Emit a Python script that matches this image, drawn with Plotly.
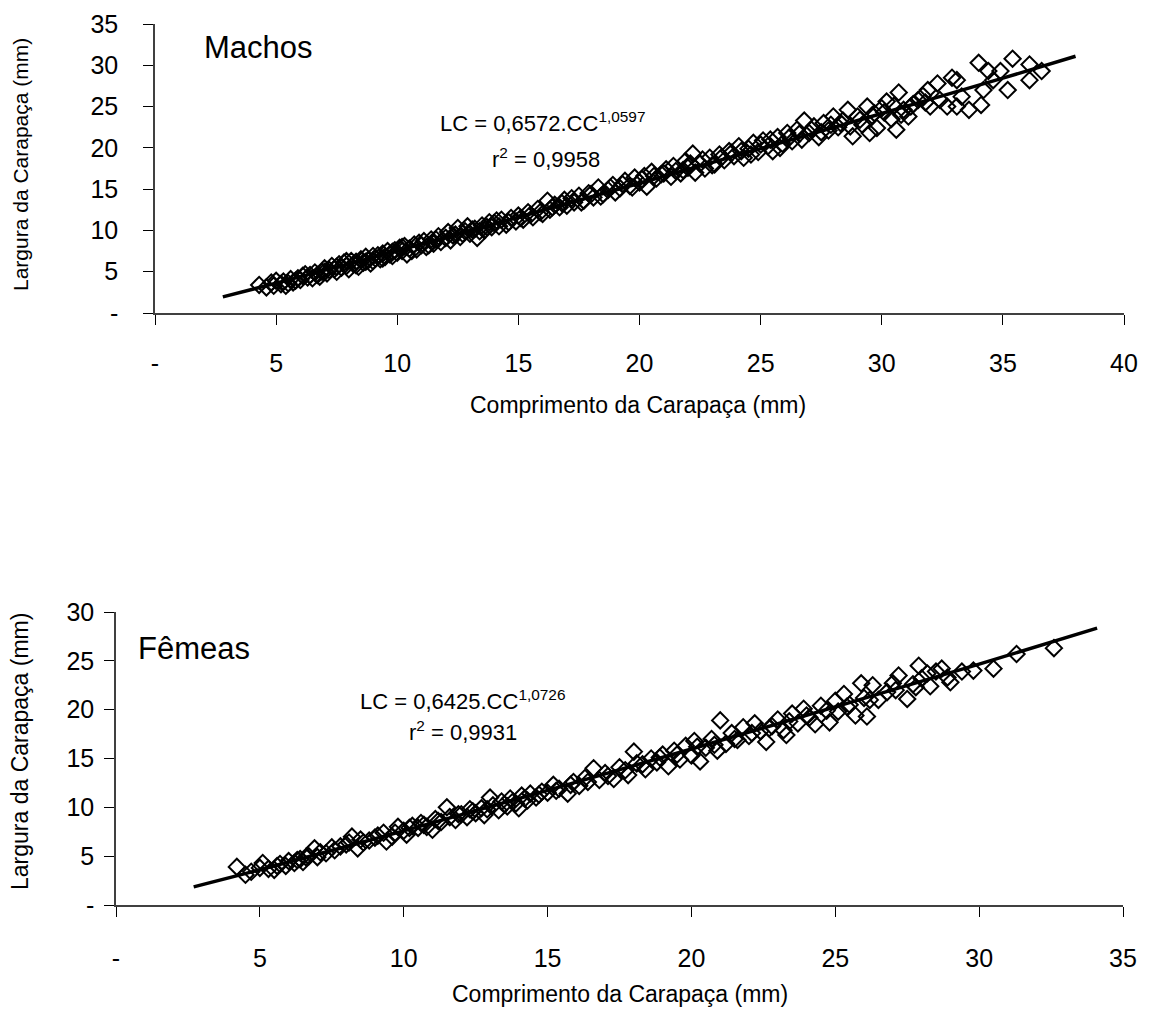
import plotly.graph_objects as go

# ---------------- DATA ----------------
# Machos (males): carapace length (CC) vs carapace width (LC), mm
machos_cc = [4.3, 4.6, 4.9, 5.0, 5.2, 5.3, 5.5, 5.6, 5.8, 5.9, 6.0, 6.1, 6.3, 6.4, 6.5, 6.6, 6.7, 6.9, 7.0, 7.1,
             7.2, 7.3, 7.4, 7.5, 7.6, 7.7, 7.8, 7.9, 8.0, 8.1, 8.2, 8.3, 8.4, 8.5, 8.6, 8.7, 8.8, 8.9, 9.0, 9.1,
             9.2, 9.3, 9.4, 9.5, 9.6, 9.7, 9.8, 9.9, 10.0, 10.1, 10.2, 10.3, 10.4, 10.5, 10.7, 10.8, 11.0, 11.1, 11.2, 11.4,
             11.5, 11.7, 11.8, 12.0, 12.1, 12.2, 12.4, 12.5, 12.6, 12.8, 12.9, 13.0, 13.2, 13.3, 13.5, 13.6, 13.8, 13.9, 14.0, 14.2,
             14.3, 14.5, 14.7, 14.9, 15.0, 15.2, 15.4, 15.6, 15.8, 16.0, 16.2, 16.3, 16.5, 16.7, 16.9, 17.0, 17.3, 17.5, 17.7, 17.9,
             18.1, 18.3, 18.5, 18.7, 18.9, 19.0, 19.2, 19.4, 19.6, 19.8, 20.0, 20.2, 20.3, 20.5, 20.7, 20.9, 21.1, 21.3, 21.5, 21.7,
             21.9, 22.0, 22.2, 22.3, 22.5, 22.7, 22.9, 23.1, 23.3, 23.5, 23.7, 23.9, 24.1, 24.3, 24.5, 24.7, 24.9, 25.1, 25.3, 25.5,
             25.7, 25.9, 26.1, 26.3, 26.5, 26.7, 26.8, 27.0, 27.2, 27.4, 27.6, 27.8, 28.0, 28.2, 28.4, 28.6, 28.8, 29.0, 29.2, 29.4,
             29.5, 29.7, 29.8, 30.0, 30.2, 30.4, 30.6, 30.7, 30.9, 31.1, 31.2, 31.5, 31.7, 31.9, 32.0, 32.3, 32.4, 32.7, 32.9, 33.1,
             33.1, 33.3, 33.6, 34.0, 34.1, 34.2, 34.4, 34.6, 34.9, 35.2, 35.4, 36.1, 36.1, 36.6,
             4.8, 5.4, 5.7, 6.2, 6.8, 7.0, 7.5, 7.9, 8.3, 8.7, 9.0, 9.4, 9.8, 10.2, 10.6, 10.9, 11.3, 11.6, 12.3, 12.7,
             13.1, 13.4, 13.7, 14.1, 14.6, 15.1, 15.5, 15.9, 16.4, 16.8, 17.2, 17.6, 18.0, 18.4, 18.8, 19.3, 19.7, 20.1, 20.6, 21.0,
             21.4, 21.8, 22.1, 22.6, 23.0, 23.4, 23.8, 24.2, 24.6, 25.0, 25.4, 25.8, 26.2, 26.6, 27.1, 27.5, 27.9, 28.3, 28.7, 29.1,
             29.6, 30.1, 30.5, 30.8, 31.3, 31.8]
machos_lc = [3.4, 3.1, 3.3, 3.9, 3.5, 3.8, 3.6, 4.1, 3.9, 4.2, 4.0, 4.5, 4.3, 4.6, 4.2, 4.9, 4.6, 5.0, 5.4, 4.8,
             5.2, 5.7, 5.3, 5.0, 5.9, 5.5, 6.1, 5.7, 5.3, 6.3, 5.9, 6.2, 5.6, 6.5, 6.1, 6.8, 6.4, 6.0, 6.9, 6.6,
             7.0, 6.5, 7.2, 6.8, 7.5, 7.1, 6.9, 7.6, 7.3, 7.9, 7.5, 8.1, 7.1, 7.8, 8.3, 7.7, 8.2, 8.7, 8.0, 8.9,
             8.4, 9.3, 8.6, 9.1, 9.8, 8.8, 9.5, 10.3, 9.2, 9.9, 10.5, 9.6, 10.2, 9.1, 10.6, 10.0, 11.0, 10.4, 10.9, 10.5,
             11.3, 10.7, 11.5, 11.1, 11.8, 11.3, 12.2, 11.6, 12.6, 12.0, 13.6, 12.5, 13.1, 12.8, 13.7, 13.0, 13.4, 14.2, 13.6, 14.5,
             14.0, 15.2, 14.4, 14.9, 15.5, 14.6, 15.1, 16.0, 15.4, 16.4, 15.8, 16.6, 15.3, 17.1, 16.3, 16.8, 17.4, 16.5, 17.2, 16.9,
             18.4, 17.6, 19.3, 17.0, 18.1, 17.5, 18.8, 18.0, 19.2, 18.5, 19.6, 19.0, 20.2, 18.8, 19.9, 20.6, 19.5, 20.9, 20.2, 19.6,
             21.3, 20.5, 21.8, 20.8, 22.2, 21.0, 23.3, 21.8, 22.6, 21.3, 23.0, 22.1, 23.8, 22.5, 23.3, 24.6, 21.4, 23.8, 22.8, 25.0,
             21.8, 24.2, 22.4, 24.8, 25.6, 23.5, 22.2, 26.7, 24.6, 23.8, 25.0, 25.8, 26.3, 27.0, 25.0, 27.8, 25.8, 25.0, 28.5, 28.2,
             25.0, 26.2, 24.6, 30.3, 25.2, 27.0, 29.3, 28.2, 29.3, 27.0, 30.8, 30.1, 28.2, 29.3,
             3.7, 3.3, 3.7, 4.7, 4.4, 5.0, 5.6, 6.3, 5.8, 6.2, 6.3, 6.6, 7.4, 8.0, 7.5, 8.5, 8.2, 8.9, 9.4, 9.6,
             10.1, 9.9, 10.4, 11.2, 11.0, 11.5, 11.9, 12.2, 12.8, 13.3, 13.9, 13.4, 14.4, 14.1, 15.2, 15.6, 15.2, 16.2, 16.6, 16.9,
             17.8, 17.3, 18.1, 18.6, 17.9, 18.9, 19.4, 19.6, 19.2, 20.4, 21.0, 20.0, 21.3, 21.7, 22.2, 21.9, 22.8, 23.0, 22.6, 23.4,
             23.9, 24.3, 25.1, 24.0, 25.3, 25.5]
# Machos trend line (LC = 0,6572.CC^1,0597)
machos_fit_cc = [2.8, 5, 10, 15, 20, 25, 30, 35, 38]
machos_fit_lc = [1.95, 3.62, 7.54, 11.59, 15.72, 19.91, 24.16, 28.44, 31.1]

# Fêmeas (females)
femeas_cc = [4.2, 4.5, 4.7, 5.1, 5.3, 5.5, 5.7, 5.9, 6.0, 6.2, 6.4, 6.5, 6.7, 6.9, 7.0, 7.3, 7.6, 7.8, 8.0, 8.2,
             8.4, 8.6, 8.8, 9.0, 9.3, 9.4, 9.6, 9.8, 10.0, 10.1, 10.3, 10.5, 10.6, 10.8, 11.0, 11.1, 11.3, 11.5, 11.6, 11.8,
             12.0, 12.2, 12.3, 12.5, 12.7, 12.8, 13.0, 13.1, 13.3, 13.4, 13.6, 13.7, 13.9, 14.0, 14.1, 14.3, 14.4, 14.6, 14.8, 15.0,
             15.2, 15.4, 15.7, 15.9, 16.1, 16.3, 16.6, 16.8, 17.0, 17.3, 17.5, 17.8, 18.0, 18.1, 18.4, 18.6, 18.8, 19.0, 19.2, 19.4,
             19.6, 19.8, 20.0, 20.1, 20.3, 20.5, 20.7, 20.9, 21.0, 21.2, 21.4, 21.6, 21.8, 22.0, 22.2, 22.4, 22.6, 22.8, 23.0, 23.2,
             23.3, 23.5, 23.7, 23.9, 24.1, 24.3, 24.5, 24.8, 25.0, 25.1, 25.3, 25.5, 25.7, 25.9, 26.0, 26.1, 26.3, 26.5, 26.8, 27.0,
             27.2, 27.5, 27.7, 27.9, 28.0, 28.3, 28.5, 28.7, 29.0, 29.4, 29.8, 30.5, 31.3, 32.6,
             5.0, 5.6, 6.3, 6.6, 7.1, 7.5, 8.1, 8.5, 9.1, 9.7, 10.2, 10.7, 11.2, 11.9, 12.4, 12.9, 13.5, 13.8, 14.2, 14.7,
             15.3, 15.8, 16.4, 17.1, 17.7, 18.3, 18.9, 19.5, 20.2, 20.8, 21.5, 22.1, 22.7, 23.4, 24.0, 24.7, 25.4, 26.2, 27.1, 27.8,
             28.2, 28.9]
femeas_lc = [3.9, 3.1, 3.4, 4.3, 3.7, 3.6, 4.2, 4.0, 4.5, 4.3, 4.7, 4.4, 5.0, 5.8, 4.9, 5.3, 5.6, 6.0, 6.2, 7.0,
             5.8, 6.4, 6.6, 6.9, 7.4, 6.5, 7.0, 8.0, 7.6, 7.2, 8.1, 7.9, 8.4, 8.0, 7.7, 8.8, 8.5, 10.0, 9.0, 8.7,
             9.3, 9.0, 9.8, 9.4, 9.9, 9.2, 11.0, 10.2, 9.7, 10.6, 10.1, 10.9, 10.4, 9.9, 11.2, 10.7, 11.4, 11.0, 11.6, 11.5,
             12.3, 11.9, 11.4, 12.6, 12.2, 13.0, 14.0, 12.8, 13.5, 12.9, 14.1, 13.3, 15.7, 14.5, 13.9, 15.0, 14.6, 15.4, 14.2, 15.8,
             14.9, 16.3, 15.3, 16.8, 14.7, 16.1, 17.0, 15.8, 18.9, 16.5, 17.6, 16.9, 18.2, 17.3, 18.6, 17.8, 16.7, 18.3, 19.0, 17.9,
             17.4, 19.6, 18.6, 20.1, 19.2, 18.5, 20.4, 18.7, 20.9, 19.8, 21.6, 20.5, 19.4, 22.7, 21.2, 19.3, 22.5, 21.0, 21.8, 22.7,
             23.5, 21.1, 22.6, 24.5, 23.2, 22.4, 23.9, 24.2, 22.8, 23.9, 24.0, 24.2, 25.7, 26.3,
             3.8, 4.0, 4.6, 4.9, 5.4, 5.9, 6.4, 6.7, 7.1, 7.4, 7.9, 8.2, 8.6, 9.3, 9.6, 9.8, 10.3, 10.6, 10.9, 11.3,
             11.7, 12.3, 12.6, 13.2, 13.8, 14.4, 15.1, 15.4, 16.2, 16.4, 17.0, 17.6, 18.1, 18.8, 19.4, 19.9, 20.3, 21.0, 22.0, 22.3,
             23.7, 23.3]
# Fêmeas trend line (LC = 0,6425.CC^1,0726)
femeas_fit_cc = [2.7, 5, 10, 15, 20, 25, 30, 34.1]
femeas_fit_lc = [1.86, 3.61, 7.59, 11.73, 15.97, 20.29, 24.67, 28.35]

top_xticks = [0, 5, 10, 15, 20, 25, 30, 35, 40]
top_xticktext = ["-", "5", "10", "15", "20", "25", "30", "35", "40"]
top_yticks = [0, 5, 10, 15, 20, 25, 30, 35]
top_yticktext = ["-", "5", "10", "15", "20", "25", "30", "35"]
bot_xticks = [0, 5, 10, 15, 20, 25, 30, 35]
bot_xticktext = ["-", "5", "10", "15", "20", "25", "30", "35"]
bot_yticks = [0, 5, 10, 15, 20, 25, 30]
bot_yticktext = ["-", "5", "10", "15", "20", "25", "30"]

# ---------------- FIGURE ----------------
OFF = 8  # browser default body margin
W, H = 1151 - OFF, 1010 - OFF
FONT = "Liberation Sans, Arial, sans-serif"


def px(x):
    return (x - OFF) / W


def py(y):
    return 1 - (y - OFF) / H


marker = dict(symbol="diamond-open", size=12.5, color="black", line=dict(color="black", width=2))

fig = go.Figure()
fig.add_trace(go.Scatter(x=machos_cc, y=machos_lc, mode="markers", marker=marker,
                         xaxis="x", yaxis="y", showlegend=False))
fig.add_trace(go.Scatter(x=machos_fit_cc, y=machos_fit_lc, mode="lines", line=dict(color="black", width=3.5, shape="spline"),
                         xaxis="x", yaxis="y", showlegend=False))
fig.add_trace(go.Scatter(x=femeas_cc, y=femeas_lc, mode="markers", marker=marker,
                         xaxis="x2", yaxis="y2", showlegend=False))
fig.add_trace(go.Scatter(x=femeas_fit_cc, y=femeas_fit_lc, mode="lines", line=dict(color="black", width=3.5, shape="spline"),
                         xaxis="x2", yaxis="y2", showlegend=False))

axis_common = dict(showgrid=False, zeroline=False, showline=True, linecolor="#404040", linewidth=1.5,
                   ticks="outside", ticklen=10, tickcolor="black", tickwidth=1, automargin=False,
                   tickfont=dict(family=FONT, size=25, color="black"), fixedrange=True)

fig.update_layout(
    width=W, height=H,
    margin=dict(l=0, r=0, t=0, b=0, autoexpand=False),
    paper_bgcolor="white", plot_bgcolor="white",
    font=dict(family=FONT, color="black"),
    xaxis=dict(axis_common, domain=[px(155), px(1124)], range=[0, 40], anchor="y",
               tickmode="array", tickvals=top_xticks, ticktext=top_xticktext, ticklabelstandoff=17),
    yaxis=dict(axis_common, domain=[py(313), py(24)], range=[0, 35], anchor="x",
               tickmode="array", tickvals=top_yticks, ticktext=top_yticktext, ticklabelstandoff=20),
    xaxis2=dict(axis_common, domain=[px(116), px(1123)], range=[0, 35], anchor="y2",
                tickmode="array", tickvals=bot_xticks, ticktext=bot_xticktext, ticklabelstandoff=20),
    yaxis2=dict(axis_common, domain=[py(905), py(612)], range=[0, 30], anchor="x2",
                tickmode="array", tickvals=bot_yticks, ticktext=bot_yticktext, ticklabelstandoff=5),
)

ann = []


def add(text, x, y, size, xanchor="center", angle=0):
    ann.append(dict(text=text, x=px(x), y=py(y), xref="paper", yref="paper", showarrow=False,
                    xanchor=xanchor, yanchor="middle", textangle=angle,
                    font=dict(family=FONT, size=size, color="black")))


add("Comprimento da Carapaça (mm)", 638, 405, 23)
add("Largura da Carapaça (mm)", 20, 165, 21, angle=-90)
add("Machos", 202, 47, 31, xanchor="left")
add("LC = 0,6572.CC<sup>1,0597</sup>", 438, 122, 22, xanchor="left")
add("r<sup>2</sup> = 0,9958", 490, 158, 22, xanchor="left")

add("Comprimento da Carapaça (mm)", 620, 994, 23)
add("Largura da Carapaça (mm)", 20, 752, 23, angle=-90)
add("Fêmeas", 136, 648, 31, xanchor="left")
add("LC = 0,6425.CC<sup>1,0726</sup>", 358, 700, 22, xanchor="left")
add("r<sup>2</sup> = 0,9931", 407, 731, 22, xanchor="left")

fig.update_layout(annotations=ann)

fig.write_html("out.html")
